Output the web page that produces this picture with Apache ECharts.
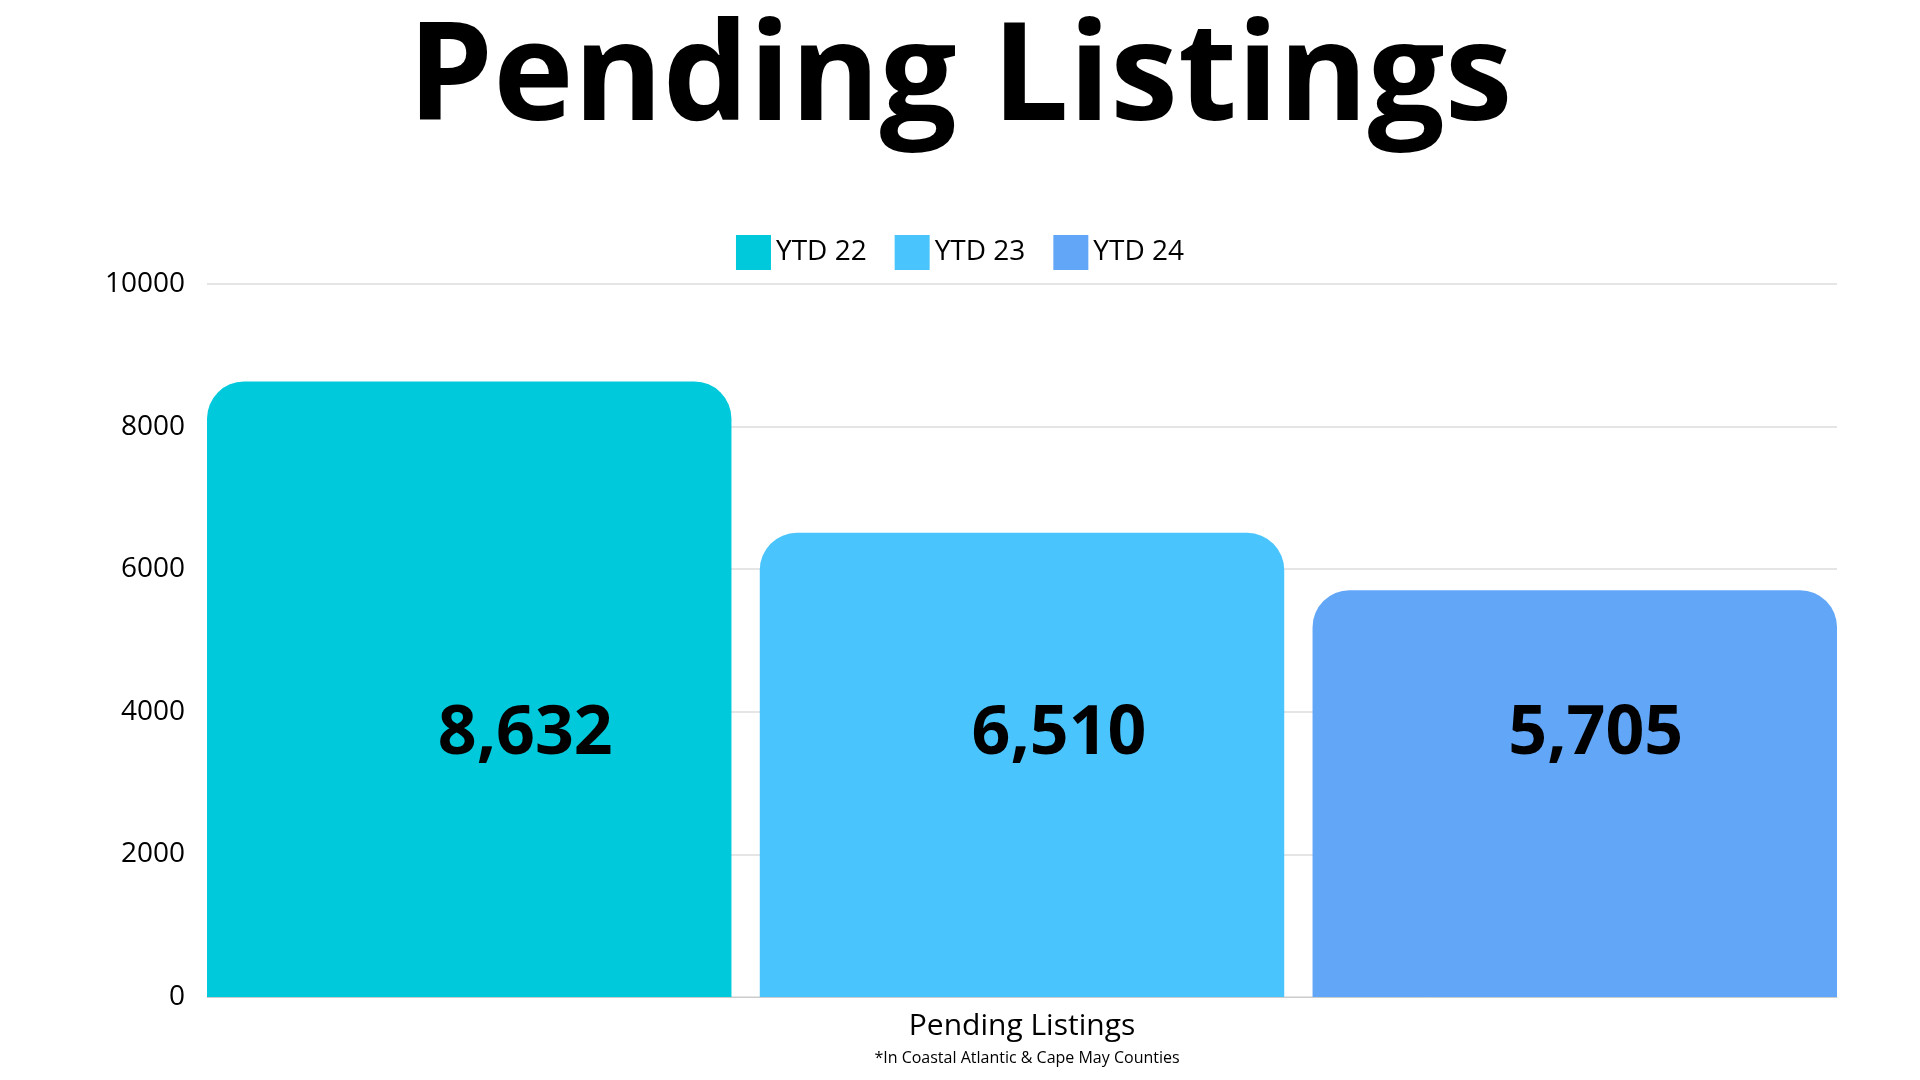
<!DOCTYPE html>
<html><head><meta charset="utf-8">
<script src="https://cdn.jsdelivr.net/npm/echarts@6/dist/echarts.min.js"></script>
<style>html,body{margin:0;padding:0;background:#fff}#c{width:1920px;height:1080px}</style>
</head><body><div id="c"></div>
<script>
const categories = ['Pending Listings'];
const seriesNames = ['YTD 22', 'YTD 23', 'YTD 24'];
const values = [8632, 6510, 5705];
const yTicks = [0, 2000, 4000, 6000, 8000, 10000];
const colors = ['#00C9DB', '#4AC4FD', '#62A6F8'];
const labelDx = [56, 37, 21];
const chart = echarts.init(document.getElementById('c'));
chart.setOption({
  animation: false,
  title: [{text: 'Pending Listings', left: 'center', top: 8,
    textStyle: {fontFamily: 'Open Sans', fontWeight: 'bold', fontSize: 136, color: '#000'}},
    {text: '*In Coastal Atlantic & Cape May Counties', left: 1022, top: 1045, textAlign: 'center',
    textStyle: {fontFamily: 'Open Sans', fontWeight: 'normal', fontSize: 16, color: '#000'}}],
  legend: {top: 230, left: 'center', itemWidth: 35, itemHeight: 35, itemGap: 28, icon: 'rect',
    textStyle: {fontFamily: 'Open Sans', fontSize: 28, color: '#000'}},
  grid: {left: 207, right: 83, top: 284, bottom: 83},
  xAxis: {type: 'category', data: categories, axisTick: {show: false},
    axisLine: {lineStyle: {color: '#ccc'}},
    axisLabel: {fontFamily: 'Open Sans', fontSize: 30, color: '#000', margin: 14}},
  yAxis: {type: 'value', min: 0, max: 10000, interval: 2000,
    splitLine: {lineStyle: {color: '#ddd', width: 1.5}},
    axisLabel: {fontFamily: 'Open Sans', fontSize: 28, color: '#000', margin: 22,
      formatter: v => yTicks.includes(v) ? String(v) : ''}},
  series: seriesNames.map((n, i) => ({
    name: n, type: 'bar', data: [values[i]], barCategoryGap: '0%', barGap: '5.4%',
    itemStyle: {color: colors[i], borderRadius: [37, 37, 0, 0]},
    label: {show: true, position: 'insideBottom', distance: 0, offset: [labelDx[i], -228],
      fontFamily: 'Open Sans', fontWeight: 'bold', fontSize: 68, color: '#000',
      formatter: p => p.value.toLocaleString('en-US')}
  }))
});
</script></body></html>
